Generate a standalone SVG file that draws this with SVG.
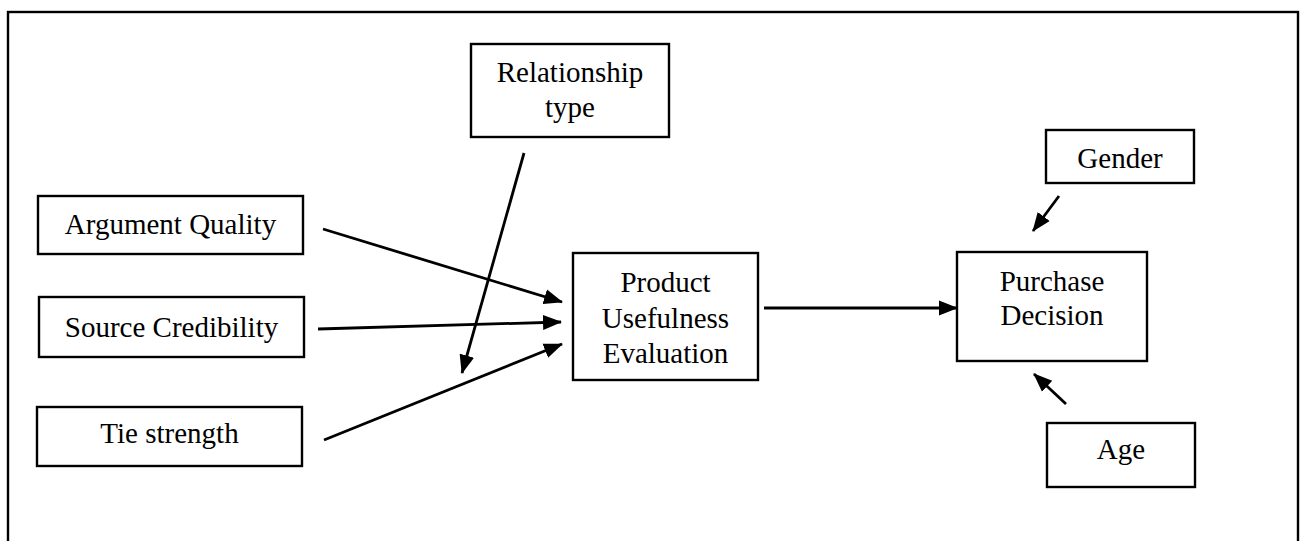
<svg xmlns="http://www.w3.org/2000/svg" width="1305" height="541" viewBox="0 0 1305 541">
  <style>
    .box { fill: #ffffff; stroke: #000000; stroke-width: 2.4; }
    .frame { fill: none; stroke: #000000; stroke-width: 2.4; }
    .lbl { font-family: "Liberation Serif", "Times New Roman", serif; font-size: 29px; fill: #000000; text-anchor: middle; }
    .conn { stroke: #000000; stroke-width: 2.8; fill: none; marker-end: url(#arrow); }
  </style>
  <defs>
    <marker id="arrow" markerUnits="userSpaceOnUse" viewBox="0 0 19 16" markerWidth="19" markerHeight="16" refX="18" refY="8" orient="auto">
      <path d="M0,0.5 L19,8 L0,15.5 Z" fill="#000000"/>
    </marker>
  </defs>
  <rect x="0" y="0" width="1305" height="541" fill="#ffffff"/>
  <rect class="frame" x="8" y="12" width="1290" height="560"/>

  <g id="connectors">
    <line class="conn" x1="323" y1="229" x2="562" y2="302"/>
    <line class="conn" x1="318" y1="329" x2="561" y2="322"/>
    <line class="conn" x1="324" y1="440" x2="562" y2="344"/>
    <line class="conn" x1="524" y1="153" x2="462" y2="373"/>
    <line class="conn" x1="764" y1="308" x2="957" y2="308"/>
    <line class="conn" x1="1059" y1="196" x2="1033" y2="231"/>
    <line class="conn" x1="1066" y1="404" x2="1034" y2="374"/>
  </g>

  <g id="relationship-type">
    <rect class="box" x="471" y="44" width="198" height="93"/>
    <text class="lbl" x="570" y="82">Relationship</text>
    <text class="lbl" x="570" y="117">type</text>
  </g>
  <g id="argument-quality">
    <rect class="box" x="38" y="196" width="265" height="58"/>
    <text class="lbl" x="170.5" y="234">Argument Quality</text>
  </g>
  <g id="source-credibility">
    <rect class="box" x="39" y="297" width="265" height="60"/>
    <text class="lbl" x="171.5" y="337">Source Credibility</text>
  </g>
  <g id="tie-strength">
    <rect class="box" x="37" y="407" width="265" height="59"/>
    <text class="lbl" x="169.5" y="443">Tie strength</text>
  </g>
  <g id="product-usefulness-evaluation">
    <rect class="box" x="573" y="253" width="185" height="127"/>
    <text class="lbl" x="665.5" y="292">Product</text>
    <text class="lbl" x="665.5" y="328">Usefulness</text>
    <text class="lbl" x="665.5" y="363">Evaluation</text>
  </g>
  <g id="purchase-decision">
    <rect class="box" x="957" y="252" width="190" height="109"/>
    <text class="lbl" x="1052" y="291">Purchase</text>
    <text class="lbl" x="1052" y="325">Decision</text>
  </g>
  <g id="gender">
    <rect class="box" x="1046" y="130" width="148" height="53"/>
    <text class="lbl" x="1120" y="168">Gender</text>
  </g>
  <g id="age">
    <rect class="box" x="1047" y="423" width="148" height="64"/>
    <text class="lbl" x="1121" y="459">Age</text>
  </g>
</svg>
